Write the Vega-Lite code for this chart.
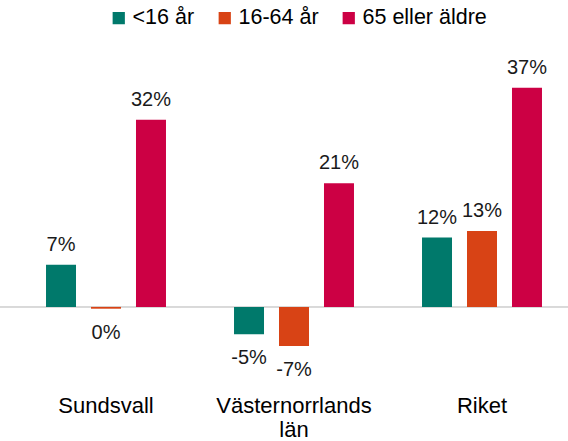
{
  "$schema": "https://vega.github.io/schema/vega-lite/v6.json",
  "width": 568,
  "height": 308,
  "autosize": {"type": "none"},
  "padding": {"top": 70, "left": 0, "right": 0, "bottom": 63},
  "background": "white",
  "config": {
    "view": {"stroke": null},
    "font": "Liberation Sans",
    "text": {"font": "Liberation Sans"}
  },
  "data": {
    "values": [
      {"region": "Sundsvall", "group": "<16 år", "value": 7.1, "label": "7%"},
      {"region": "Sundsvall", "group": "16-64 år", "value": -0.3, "label": "0%"},
      {"region": "Sundsvall", "group": "65 eller äldre", "value": 31.6, "label": "32%"},
      {"region": "Västernorrlands län", "group": "<16 år", "value": -4.6, "label": "-5%"},
      {"region": "Västernorrlands län", "group": "16-64 år", "value": -6.6, "label": "-7%"},
      {"region": "Västernorrlands län", "group": "65 eller äldre", "value": 20.9, "label": "21%"},
      {"region": "Riket", "group": "<16 år", "value": 11.7, "label": "12%"},
      {"region": "Riket", "group": "16-64 år", "value": 12.8, "label": "13%"},
      {"region": "Riket", "group": "65 eller äldre", "value": 37.0, "label": "37%"}
    ]
  },
  "encoding": {
    "x": {
      "field": "region",
      "type": "nominal",
      "sort": ["Sundsvall", "Västernorrlands län", "Riket"],
      "scale": {"range": [12, 576], "paddingInner": 0, "paddingOuter": 0},
      "axis": {
        "title": null,
        "domain": false,
        "ticks": false,
        "labelAngle": 0,
        "labelFontSize": 22,
        "labelColor": "#000000",
        "labelPadding": 17,
        "labelLineHeight": 24,
        "labelExpr": "datum.value == 'Västernorrlands län' ? ['Västernorrlands', 'län'] : datum.value"
      }
    },
    "xOffset": {
      "field": "group",
      "type": "nominal",
      "sort": ["<16 år", "16-64 år", "65 eller äldre"],
      "scale": {"paddingInner": 0.3333, "paddingOuter": 0.756}
    },
    "y": {
      "field": "value",
      "type": "quantitative",
      "scale": {"domain": [-12, 40], "nice": false, "zero": false},
      "axis": null
    }
  },
  "layer": [
    {
      "mark": {"type": "rule", "color": "#D9D9D9", "strokeWidth": 1},
      "encoding": {
        "x": null,
        "xOffset": null,
        "y": {"datum": 0, "type": "quantitative"}
      }
    },
    {
      "mark": {"type": "bar"},
      "encoding": {
        "y2": {"datum": 0},
        "color": {
          "field": "group",
          "type": "nominal",
          "sort": ["<16 år", "16-64 år", "65 eller äldre"],
          "scale": {"range": ["#00796B", "#D84315", "#CC0044"]},
          "legend": {
            "title": null,
            "orient": "none",
            "direction": "horizontal",
            "legendX": 108,
            "legendY": -63,
            "symbolType": "square",
            "symbolSize": 150,
            "symbolStrokeWidth": 0,
            "symbolOpacity": 1,
            "labelFontSize": 21.5,
            "labelColor": "#000000",
            "labelOffset": 3,
            "columnPadding": 19
          }
        }
      }
    },
    {
      "transform": [{"filter": "datum.value >= 0"}],
      "mark": {"type": "text", "baseline": "bottom", "dy": -10, "fontSize": 20, "color": "#1a1a1a"},
      "encoding": {"text": {"field": "label"}}
    },
    {
      "transform": [{"filter": "datum.value < 0"}],
      "mark": {"type": "text", "baseline": "top", "dy": 14, "fontSize": 20, "color": "#1a1a1a"},
      "encoding": {"text": {"field": "label"}}
    }
  ]
}
